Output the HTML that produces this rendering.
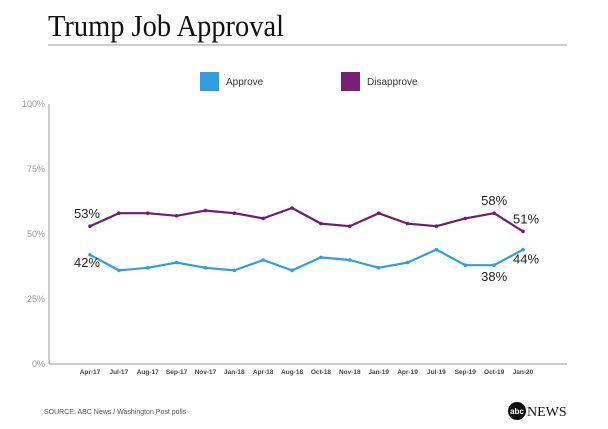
<!DOCTYPE html>
<html><head><meta charset="utf-8"><style>
body{margin:0;background:#fff;}
svg{display:block;font-family:"Liberation Sans",sans-serif;}
</style></head><body>
<svg id="chart" width="608" height="429" viewBox="0 0 608 429">
<text x="48" y="36" font-family="Liberation Serif,serif" font-size="31" textLength="236" lengthAdjust="spacingAndGlyphs" fill="#111">Trump Job Approval</text>
<line x1="48" y1="45" x2="567" y2="45" stroke="#999" stroke-width="1"/>
<g>
<rect x="200" y="72" width="19" height="19" fill="#2e9ee0"/>
<text x="226" y="85" font-size="10" fill="#333">Approve</text>
<rect x="341" y="72" width="19" height="19" fill="#7a1f78"/>
<text x="367" y="85" font-size="10" fill="#333">Disapprove</text>
</g>
<g id="axes"></g>
<g id="series"></g>
<text x="44" y="414" font-size="7" fill="#555">SOURCE: ABC News / Washington Post polls</text>
<g>
<circle cx="517" cy="411" r="9" fill="#111"/>
<text x="517" y="414" font-size="8" font-weight="bold" fill="#fff" text-anchor="middle">abc</text>
<text x="527" y="416" font-family="Liberation Serif,serif" font-size="14" fill="#111">NEWS</text>
</g>
</svg>
<script>
const categories=["Apr-17","Jul-17","Aug-17","Sep-17","Nov-17","Jan-18","Apr-18","Aug-18","Oct-18","Nov-18","Jan-19","Apr-19","Jul-19","Sep-19","Oct-19","Jan-20"];
const approve=[42,36,37,39,37,36,40,36,41,40,37,39,44,38,38,44];
const disapprove=[53,58,58,57,59,58,56,60,54,53,58,54,53,56,58,51];
const yTicks=[0,25,50,75,100];
const NS="http://www.w3.org/2000/svg";
const x0=90,x1=523,yb=364,yt=104;
const xs=i=>x0+(x1-x0)*i/(categories.length-1);
const ys=v=>yb-(yb-yt)*v/100;
function mk(tag,attrs,parent){const e=document.createElementNS(NS,tag);for(const k in attrs)e.setAttribute(k,attrs[k]);parent.appendChild(e);return e;}
const ax=document.getElementById('axes');
let l=mk('line',{x1:49,y1:yt,x2:49,y2:yb,stroke:'#999','stroke-width':1},ax);


l=mk('line',{x1:49,y1:yb,x2:567,y2:yb,stroke:'#999','stroke-width':1},ax);


yTicks.forEach(v=>{const t=mk('text',{x:45,y:ys(v)+3,'font-size':9,fill:'#999','text-anchor':'end'},ax);t.textContent=v+'%';

});
categories.forEach((c,i)=>{const t=mk('text',{x:xs(i),y:374,'font-size':6.5,'font-weight':'bold',fill:'#444','text-anchor':'middle'},ax);t.textContent=c;

});
const sg=document.getElementById('series');
function draw(vals,color,name){
 const p=mk('polyline',{points:vals.map((v,i)=>xs(i)+','+ys(v)).join(' '),fill:'none',stroke:color,'stroke-width':2.2,'stroke-linejoin':'round'},sg);
 
 
 vals.forEach((v,i)=>{const c=mk('circle',{cx:xs(i),cy:ys(v),r:1.8,fill:color},sg);
 
 });
}
draw(disapprove,'#6e1f6b','disapprove');
draw(approve,'#2e9ee0','approve');
const n=categories.length-1;
const labels=[[0,disapprove,-1,'end',-4,-8],[0,approve,1,'end',-4,12],[14,disapprove,-1,'middle',0,-8],[14,approve,1,'middle',0,16],[n,disapprove,-1,'start',0,-8],[n,approve,1,'start',-2,14]];
labels.forEach(([i,arr,d,anc,dx,dy])=>{
 let x=xs(i)+dx; if(anc==='end')x=xs(i)+10; if(anc==='start')x=xs(i)-10;
 const t=mk('text',{x:x,y:ys(arr[i])+dy,'font-size':13,fill:'#222','text-anchor':anc==='end'?'end':(anc==='start'?'start':'middle')},sg);
 t.textContent=arr[i]+'%';
 
 
});
</script>
</body></html>
